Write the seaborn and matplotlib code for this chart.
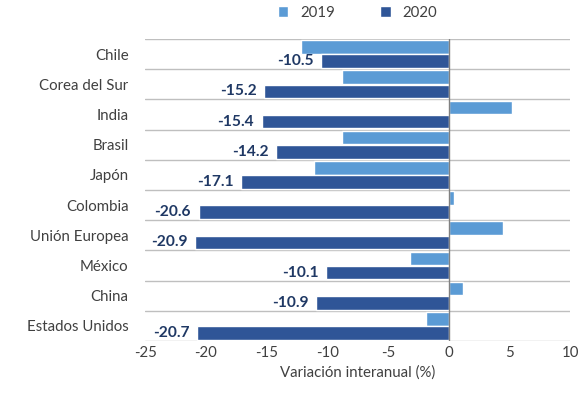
import matplotlib
matplotlib.use("Agg")
import matplotlib.pyplot as plt
import pandas as pd
import seaborn as sns
from matplotlib.ticker import FixedLocator

paises = ["Chile", "Corea del Sur", "India", "Brasil", "Japón", "Colombia",
          "Unión Europea", "México", "China", "Estados Unidos"]
var_2019 = [-12.2, -8.8, 5.2, -8.8, -11.1, 0.4, 4.5, -3.2, 1.2, -1.9]
var_2020 = [-10.5, -15.2, -15.4, -14.2, -17.1, -20.6, -20.9, -10.1, -10.9, -20.7]
anios = ["2019", "2020"]

df = pd.DataFrame({
    "pais": paises * 2,
    "valor": var_2019 + var_2020,
    "anio": [anios[0]] * len(paises) + [anios[1]] * len(paises),
})

sns.set_theme(style="white")
plt.rcParams["font.family"] = ["Lato", "DejaVu Sans"]
plt.rcParams["axes.unicode_minus"] = False

fig, ax = plt.subplots(figsize=(5.83, 4.0), dpi=100)
fig.subplots_adjust(left=0.249, right=0.978, top=0.9025, bottom=0.1475)

sns.barplot(data=df, x="valor", y="pais", hue="anio", orient="h",
            palette=["#5b9bd5", "#2f5597"], width=0.94, gap=0.05,
            saturation=1, ax=ax)

ax.bar_label(ax.containers[1], fmt="%.1f", padding=5.5, fontsize=11.2,
             fontweight="bold", color="#1f3864")

ax.set_xlim(-25, 10)
ax.set_ylim(len(paises) - 0.5, -0.5)
ax.set_xticks(range(-25, 11, 5))
ax.yaxis.set_minor_locator(FixedLocator([i - 0.5 for i in range(len(paises) + 1)]))
ax.grid(axis="y", which="minor", color="#bfbfbf", linewidth=1)
ax.grid(axis="y", which="major", visible=False)
ax.axvline(0, color="#808080", linewidth=1)
for s in ax.spines.values():
    s.set_visible(False)
ax.tick_params(axis="both", which="both", length=0, labelsize=10.8, colors="#404040")
ax.tick_params(axis="y", pad=12)
ax.set_ylabel("")
ax.set_xlabel("Variación interanual (%)", fontsize=10.8, color="#404040", labelpad=4)

ax.legend(loc="upper center", bbox_to_anchor=(0.5, 1.155), ncol=2, frameon=False,
          fontsize=10.8, handlelength=0.7, handleheight=0.7, columnspacing=3,
          labelcolor="#404040")

fig.savefig("out.png", dpi=100)
